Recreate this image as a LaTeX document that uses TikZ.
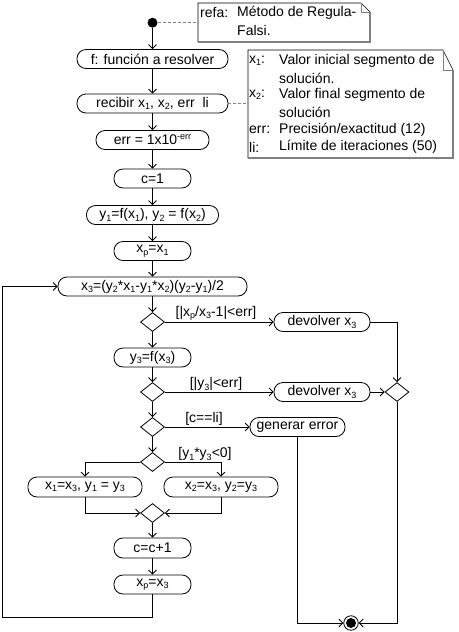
\documentclass[tikz,border=0pt]{standalone}
\usepackage{fontspec}
\setmainfont{Liberation Sans}
\usetikzlibrary{shapes.geometric,arrows.meta}
\newcommand\sbs[1]{\raisebox{-2.5pt}{\fontsize{9}{9}\selectfont #1}}
\newcommand\sps[1]{\raisebox{5pt}{\fontsize{9}{9}\selectfont #1}}
\begin{document}
\begin{tikzpicture}[x=1pt,y=-1pt,
  every node/.style={font=\fontsize{14}{16}\selectfont},
  act/.style={draw, line width=0.8pt, rounded corners=9pt, minimum height=19pt, inner sep=0pt, fill=white},
  dec/.style={draw, diamond, line width=0.8pt, minimum width=24pt, minimum height=19pt, inner sep=0pt},
  flow/.style={draw, line width=0.8pt, -{Straight Barb[length=4pt,width=8pt]}},
  dashlink/.style={draw=gray, line width=0.8pt, dash pattern=on 3pt off 2pt},
  guard/.style={inner sep=1pt, anchor=south},
  notetxt/.style={anchor=west, inner sep=0pt},
]
\useasboundingbox (0,0) rectangle (458,632);

% notes
\draw[fill=white, line width=0.6pt] (198,3) -- (361,3) -- (370,12) -- (370,42) -- (198,42) -- cycle;
\draw[gray, line width=1.5pt] (370,12) -- (370,42) -- (198,42);
\draw[gray, line width=0.6pt] (361,3) -- (361,12) -- (370,12);
\node[notetxt] (r1) at (200,13) {refa:};
\node[notetxt] (r2) at (237,13) {Método de Regula-};
\node[notetxt] (r3) at (237,30) {Falsi.};
\coordinate (n1) at (198,22.7);

\draw[fill=white, line width=0.6pt] (248,50) -- (443,50) -- (453,70) -- (453,158) -- (248,158) -- cycle;
\draw[gray, line width=1.5pt] (453,70) -- (453,158) -- (248,158);
\draw[gray, line width=0.6pt] (443,50) -- (443,70) -- (453,70);
\node[notetxt] (a1) at (249,61) {x\sbs{1}:};
\node[notetxt] (b1) at (279,61) {Valor inicial segmento de};
\node[notetxt] (b2) at (279,78) {solución.};
\node[notetxt] (a3) at (249,95) {x\sbs{2}:};
\node[notetxt] (b3) at (279,95) {Valor final segmento de};
\node[notetxt] (b4) at (279,112.5) {solución};
\node[notetxt] (a5) at (249,130) {err:};
\node[notetxt] (b5) at (279,130) {Precisión/exactitud (12)};
\node[notetxt] (a6) at (249,147) {li:};
\node[notetxt] (b6) at (279,147) {Límite de iteraciones (50)};
\coordinate (n2) at (248,103.5);

% start / end
\node[circle, fill, inner sep=0pt, minimum size=10pt] (start) at (152.5,22.7) {};
\node[circle, draw, line width=0.8pt, inner sep=0pt, minimum size=14.5pt] (end) at (351,623) {};
\node[circle, fill, inner sep=0pt, minimum size=10pt] (endin) at (end) {};

% activities
\node[act, minimum width=151pt] (f) at (152.5,59) {f: función a resolver};
\node[act, minimum width=151pt] (rec) at (152.5,103.5) {recibir x\sbs{1}, x\sbs{2}, err\ \ li};
\node[act, minimum width=113pt] (err) at (152.5,140) {err = 1x10\sps{-err}};
\node[act, minimum width=77pt] (c1) at (152.5,178.5) {c=1};
\node[act, minimum width=132pt] (yy) at (152.5,215) {y\sbs{1}=f(x\sbs{1}), y\sbs{2} = f(x\sbs{2})};
\node[act, minimum width=77pt] (xp1) at (152.5,251) {x\sbs{p}=x\sbs{1}};
\node[act, minimum width=189pt] (x3) at (152.5,286.5) {x\sbs{3}=(y\sbs{2}*x\sbs{1}-y\sbs{1}*x\sbs{2})(y\sbs{2}-y\sbs{1})/2};
\node[dec] (d1) at (152.5,322) {};
\node[act, minimum width=96pt] (dev1) at (322,322) {devolver x\sbs{3}};
\node[act, minimum width=77pt] (y3) at (152.5,357.5) {y\sbs{3}=f(x\sbs{3})};
\node[dec] (d2) at (152.5,392) {};
\node[act, minimum width=96pt] (dev2) at (322,392) {devolver x\sbs{3}};
\node[dec] (m1) at (397,392) {};
\node[dec] (d3) at (152.5,427) {};
\node[act, minimum width=95pt] (gen) at (297.5,427) {generar error};
\node[dec] (d4) at (152.5,462) {};
\node[act, minimum width=114pt, minimum height=20pt] (lft) at (85,487) {x\sbs{1}=x\sbs{3}, y\sbs{1} = y\sbs{3}};
\node[act, minimum width=114pt, minimum height=20pt] (rgt) at (221,487) {x\sbs{2}=x\sbs{3}, y\sbs{2}=y\sbs{3}};
\node[dec] (m2) at (152.5,513) {};
\node[act, minimum width=77pt, minimum height=20pt] (cc) at (152.5,548) {c=c+1};
\node[act, minimum width=77pt] (xp2) at (152.5,584.5) {x\sbs{p}=x\sbs{3}};

% guards
\node[guard] (g1) at (216,322) {[|x\sbs{p}/x\sbs{3}-1|<err]};
\node[guard] (g2) at (216,392) {[|y\sbs{3}|<err]};
\node[guard] (g3) at (204,427) {[c==li]};
\node[guard] (g4) at (205,462) {[y\sbs{1}*y\sbs{3}<0]};

% dashed links
\path[dashlink] (start) -- (n1);
\path[dashlink] (rec.east) -- (n2);

% flows
\path[flow] (start) -- (f);
\path[flow] (f) -- (rec);
\path[flow] (rec) -- (err);
\path[flow] (err) -- (c1);
\path[flow] (c1) -- (yy);
\path[flow] (yy) -- (xp1);
\path[flow] (xp1) -- (x3);
\path[flow] (x3) -- (d1);
\path[flow] (d1.east) -- (dev1.west);
\path[flow] (d1) -- (y3);
\path[flow] (y3) -- (d2);
\path[flow] (d2.east) -- (dev2.west);
\path[flow] (d2) -- (d3);
\path[flow] (d3.east) -- (gen.west);
\path[flow] (d3) -- (d4);
\path[flow] (d4.west) -| (lft.north);
\path[flow] (d4.east) -| (rgt.north);
\path[flow] (lft.south) |- (m2.west);
\path[flow] (rgt.south) |- (m2.east);
\path[flow] (m2) -- (cc);
\path[flow] (cc) -- (xp2);
\coordinate (loopc) at (2,617);
\path[flow] (xp2.south) |- (loopc) |- (x3.west);
\path[flow] (dev1.east) -| (m1.north);
\path[flow] (dev2.east) -- (m1.west);
\path[flow] (m1.south) |- (end.east);
\path[flow] (gen.south) |- (end.west);
\end{tikzpicture}
\end{document}
